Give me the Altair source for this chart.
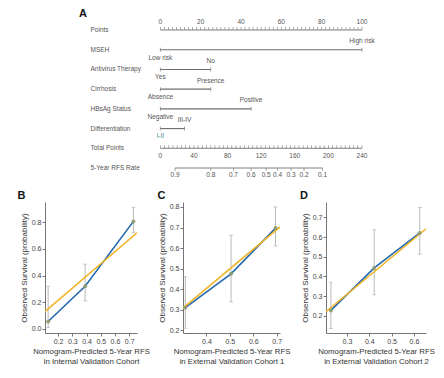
import altair as alt
import pandas as pd

# ---------------- Nomogram (panel A) ----------------
rows = ["Points", "MSEH", "Antivirus Therapy", "Cirrhosis", "HBsAg Status",
        "Differentiation", "Total Points", "5-Year RFS Rate"]
points_ticks = list(range(0, 101, 2))
points_labels = [0, 20, 40, 60, 80, 100]
variables = ["MSEH", "Antivirus Therapy", "Cirrhosis", "HBsAg Status", "Differentiation"]
low_levels = ["Low risk", "Yes", "Absence", "Negative", "I-II"]
high_levels = ["High risk", "No", "Presence", "Positive", "III-IV"]
high_points = [100, 25, 25, 45, 12]
total_ticks = list(range(0, 241, 5))
total_labels = [0, 40, 80, 120, 160, 200, 240]
rfs_rates = [0.9, 0.8, 0.7, 0.6, 0.5, 0.4, 0.3, 0.2, 0.1]
rfs_total_points = [17.5, 60, 87, 108, 126, 139.5, 155.5, 171, 193]
max_total = 240

# ---------------- Calibration panels ----------------
b_pred = [0.13, 0.39, 0.73]
b_obs = [0.056, 0.32, 0.805]
b_lo = [0.01, 0.21, 0.72]
b_hi = [0.32, 0.485, 0.91]
b_fit_x = [0.108, 0.755]
b_fit_y = [0.13, 0.72]

c_pred = [0.31, 0.505, 0.695]
c_obs = [0.31, 0.475, 0.697]
c_lo = [0.21, 0.338, 0.61]
c_hi = [0.46, 0.663, 0.80]
c_fit_x = [0.30, 0.714]
c_fit_y = [0.308, 0.703]

d_pred = [0.228, 0.422, 0.626]
d_obs = [0.227, 0.443, 0.621]
d_lo = [0.135, 0.306, 0.513]
d_hi = [0.37, 0.637, 0.75]
d_fit_x = [0.206, 0.654]
d_fit_y = [0.22, 0.642]

GRAY = "#555555"
LINE = "#6f6f6f"
FONT = "Liberation Sans, Arial, sans-serif"

xs = alt.Scale(domain=[-57.2, 100], nice=False, zero=False)
ys = alt.Scale(type="point", domain=rows, range=[22, 160], padding=0)


def NX(field):
    return alt.X(field, type="quantitative", scale=xs, axis=None)


def NX2(field):
    return alt.X2(field)


NY = alt.Y("row:N", scale=ys, axis=None)

row_df = pd.DataFrame({"row": rows})
letter_a = pd.DataFrame({"t": ["A"]})
pts_line = pd.DataFrame({"row": ["Points"], "a": [0], "b": [100]})
pts_ticks = pd.DataFrame({"row": "Points", "v": points_ticks})
pts_labs = pd.DataFrame({"row": "Points", "v": points_labels})
var_df = pd.DataFrame({"row": variables, "low": low_levels, "high": high_levels,
                       "a": 0, "b": high_points})
tot_line = pd.DataFrame({"row": ["Total Points"], "a": [0], "b": [max_total]})
tot_ticks = pd.DataFrame({"row": "Total Points", "tp": total_ticks})
tot_labs = pd.DataFrame({"row": "Total Points", "tp": total_labels})
rfs_df = pd.DataFrame({"row": "5-Year RFS Rate", "rate": rfs_rates, "tp": rfs_total_points})

conv = f"datum.tp * 100 / {max_total}"

layers = [
    alt.Chart(row_df).mark_text(align="left", baseline="middle", fontSize=6.5, color=GRAY, font=FONT)
    .encode(x=alt.value(45.5), y=NY, text="row:N"),
    alt.Chart(letter_a).mark_text(align="left", baseline="top", fontSize=11, fontWeight="bold", color="#111", font=FONT)
    .encode(x=alt.value(34), y=alt.value(0), text="t:N"),
    # points axis
    alt.Chart(pts_line).mark_rule(color=LINE, strokeWidth=0.9).encode(x=NX("a"), x2=NX2("b"), y=NY),
    alt.Chart(pts_ticks).mark_tick(color=LINE, size=3, thickness=0.8, yOffset=-1.5).encode(x=NX("v"), y=NY),
    alt.Chart(pts_labs).mark_text(fontSize=6.5, color=GRAY, dy=-8.3, font=FONT).encode(x=NX("v"), y=NY, text="v:Q"),
    # variable lines
    alt.Chart(var_df).mark_rule(color=LINE, strokeWidth=1.1).encode(x=NX("a"), x2=NX2("b"), y=NY),
    alt.Chart(var_df).mark_tick(color=LINE, size=4, thickness=0.9).encode(x=NX("a"), y=NY),
    alt.Chart(var_df).mark_tick(color=LINE, size=4, thickness=0.9).encode(x=NX("b"), y=NY),
    alt.Chart(var_df).mark_text(fontSize=6.5, dy=7.9, font=FONT).encode(
        x=NX("a"), y=NY, text="low:N",
        color=alt.condition(alt.datum.low == "I-II", alt.value("#3a8a8e"), alt.value(GRAY))),
    alt.Chart(var_df).mark_text(fontSize=6.5, color=GRAY, dy=-8.5, font=FONT).encode(x=NX("b"), y=NY, text="high:N"),
    # total points axis
    alt.Chart(tot_line).transform_calculate(pa="datum.a * 100 / 240", pb="datum.b * 100 / 240")
    .mark_rule(color=LINE, strokeWidth=0.9).encode(x=NX("pa"), x2=NX2("pb"), y=NY),
    alt.Chart(tot_ticks).transform_calculate(p=conv)
    .mark_tick(color=LINE, size=3, thickness=0.8, yOffset=-1.5).encode(x=NX("p"), y=NY),
    alt.Chart(tot_labs).transform_calculate(p=conv)
    .mark_text(fontSize=6.5, color=GRAY, dy=7.7, font=FONT).encode(x=NX("p"), y=NY, text="tp:Q"),
    # RFS axis
    alt.Chart(rfs_df).transform_calculate(p=conv)
    .transform_aggregate(pa="min(p)", pb="max(p)", groupby=["row"])
    .mark_rule(color=LINE, strokeWidth=0.9).encode(x=NX("pa"), x2=NX2("pb"), y=NY),
    alt.Chart(rfs_df).transform_calculate(p=conv)
    .mark_tick(color=LINE, size=3, thickness=0.8, yOffset=1.5).encode(x=NX("p"), y=NY),
    alt.Chart(rfs_df).transform_calculate(p=conv)
    .mark_text(fontSize=6.5, color=GRAY, dy=6.5, font=FONT).encode(x=NX("p"), y=NY, text=alt.Text("rate:Q", format=".1f")),
]
nomo = alt.layer(*layers).properties(width=317, height=170)


def calib(pred, obs, lo, hi, fx, fy, xdom, ydom, xticks, yticks, width, line2, letter, lx):
    df = pd.DataFrame({"pred": pred, "obs": obs, "lo": lo, "hi": hi})
    fit = pd.DataFrame({"pred": fx, "obs": fy})
    xsc = alt.Scale(domain=xdom, nice=False, zero=False)
    ysc = alt.Scale(domain=ydom, nice=False, zero=False)
    xax = alt.Axis(values=xticks, format=".1f", title=["Nomogram-Predicted 5-Year RFS", line2],
                   titleFont=FONT, titleFontSize=7.8, titleColor="#333", titleFontWeight="normal",
                   titleLineHeight=10.5, titlePadding=3)
    yax = alt.Axis(values=yticks, format=".1f", title="Observed Survival (probability)",
                   titleFont=FONT, titleFontSize=8, titleColor="#333", titleFontWeight="normal",
                   titlePadding=3)

    def X(f):
        return alt.X(f, type="quantitative", scale=xsc, axis=xax)

    def Y(f):
        return alt.Y(f, type="quantitative", scale=ysc, axis=yax)

    base = alt.Chart(df)
    err = base.mark_rule(color="#b0b0b0", strokeWidth=0.9).encode(x=X("pred"), y=Y("lo"), y2="hi")
    cap_lo = base.mark_tick(color="#b0b0b0", orient="horizontal", size=4, thickness=0.9).encode(x=X("pred"), y=Y("lo"))
    cap_hi = base.mark_tick(color="#b0b0b0", orient="horizontal", size=4, thickness=0.9).encode(x=X("pred"), y=Y("hi"))
    blue = base.mark_line(color="#2368b0", strokeWidth=1.6, clip=True).encode(x=X("pred"), y=Y("obs"))
    yel = alt.Chart(fit).mark_line(color="#f0b429", strokeWidth=1.6, clip=True).encode(x=X("pred"), y=Y("obs"))
    pts = base.mark_point(filled=True, size=16, color="#8f9c6a", opacity=0.9).encode(x=X("pred"), y=Y("obs"))
    lab = alt.Chart(pd.DataFrame({"t": [letter]})).mark_text(
        align="left", baseline="middle", fontSize=11, fontWeight="bold", color="#111", font=FONT
    ).encode(x=alt.value(lx), y=alt.value(-6), text="t:N")
    return alt.layer(err, cap_lo, cap_hi, blue, yel, pts, lab).properties(width=width, height=131)


pb = calib(b_pred, b_obs, b_lo, b_hi, b_fit_x, b_fit_y, [0.108, 0.755], [-0.03, 0.95],
           [0.2, 0.3, 0.4, 0.5, 0.6, 0.7], [0.0, 0.2, 0.4, 0.6, 0.8], 92,
           "in Internal Validation Cohort", "B", -27.6)
pc = calib(c_pred, c_obs, c_lo, c_hi, c_fit_x, c_fit_y, [0.30, 0.714], [0.187, 0.824],
           [0.4, 0.5, 0.6, 0.7], [0.2, 0.3, 0.4, 0.5, 0.6, 0.7, 0.8], 97,
           "in External Validation Cohort 1", "C", -25.5)
pd_ = calib(d_pred, d_obs, d_lo, d_hi, d_fit_x, d_fit_y, [0.206, 0.654], [0.112, 0.778],
            [0.3, 0.4, 0.5, 0.6], [0.2, 0.3, 0.4, 0.5, 0.6, 0.7], 100,
            "in External Validation Cohort 2", "D", -26)

bottom = alt.hconcat(pb, pc, pd_, spacing=46, bounds="flush")
chart = alt.vconcat(nomo, bottom, spacing=24, bounds="flush").properties(
    padding={"left": 9, "top": 0, "right": 0, "bottom": 0}
).configure_view(stroke=None).configure_axis(
    grid=False, domainColor="#666", tickColor="#666", labelColor="#444", labelFontSize=7,
    labelFont=FONT, tickSize=3, labelPadding=1, domainWidth=0.9, tickWidth=0.9
)

chart.save("out.html", embed_options={"renderer": "svg", "actions": False})
